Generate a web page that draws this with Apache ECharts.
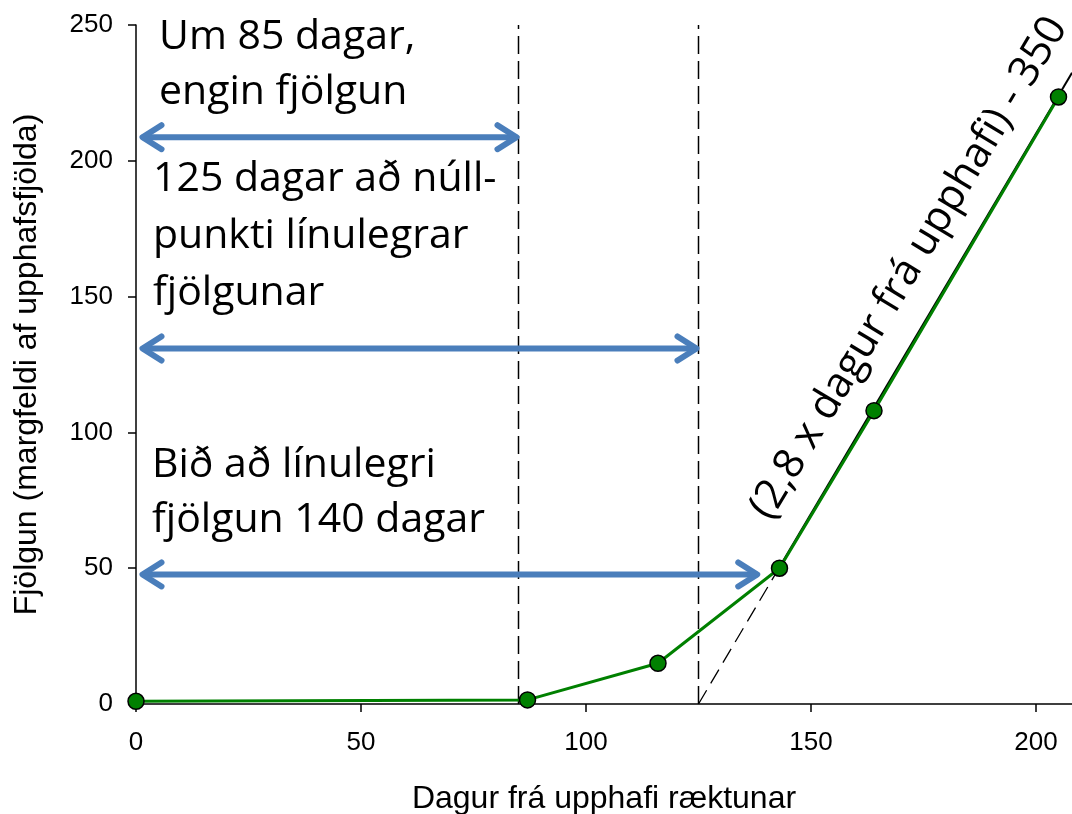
<!DOCTYPE html>
<html>
<head>
<meta charset="utf-8">
<script src="https://cdn.jsdelivr.net/npm/echarts@6/dist/echarts.min.js"></script>
<style>
  html, body { margin: 0; padding: 0; background: #fff; }
  #chart { width: 1072px; height: 814px; }
</style>
</head>
<body>
<div id="chart"></div>
<script>
// measured points (day, multiple of starting population)
var days = [0, 87, 116, 143, 164, 205];
var growth = [1, 1.5, 15, 50, 108, 223.5];

// linear fit: 2.8 x day - 350
var fitDashed = [[125, 0], [143, 50.4]];
var fitSolid = [[143, 50.4], [208, 232.4]];

// vertical dashed markers
var markerDays = [85, 125];

// double arrows: [from day, to day, level]
var arrows = [
    [1, 85, 208.7],
    [1, 125, 130.9],
    [1, 138.5, 47.7]
];

var xTicks = [0, 50, 100, 150, 200];
var yTicks = [0, 50, 100, 150, 200, 250];

var chart = echarts.init(document.getElementById('chart'));

var series = [];

markerDays.forEach(function (d) {
    series.push({
        type: 'line',
        data: [[d, 0], [d, 250]],
        symbol: 'none',
        silent: true,
        lineStyle: {color: '#000', width: 1.5, type: [18, 7]},
        z: 1
    });
});

series.push({
    type: 'line',
    data: fitDashed,
    symbol: 'none',
    silent: true,
    lineStyle: {color: '#000', width: 1.3, type: [16, 8]},
    z: 1
});
series.push({
    type: 'line',
    data: fitSolid,
    symbol: 'none',
    silent: true,
    lineStyle: {color: '#000', width: 2},
    z: 1
});

series.push({
    type: 'custom',
    data: arrows,
    clip: false,
    silent: true,
    encode: {x: [0, 1], y: 2},
    renderItem: function (params, api) {
        var a = api.coord([api.value(0), api.value(2)]);
        var b = api.coord([api.value(1), api.value(2)]);
        var st = {stroke: '#4a7ebb', lineWidth: 6, lineCap: 'round', lineJoin: 'round', fill: null};
        return {
            type: 'group',
            children: [
                {type: 'line', shape: {x1: a[0] + 3, y1: a[1], x2: b[0] - 3, y2: b[1]}, style: st},
                {type: 'polyline', shape: {points: [[a[0] + 21, a[1] - 12], [a[0] + 2, a[1]], [a[0] + 21, a[1] + 12]]}, style: st},
                {type: 'polyline', shape: {points: [[b[0] - 21, b[1] - 12], [b[0] - 2, b[1]], [b[0] - 21, b[1] + 12]]}, style: st}
            ]
        };
    },
    z: 3
});

series.push({
    type: 'line',
    data: days.map(function (d, i) { return [d, growth[i]]; }),
    symbol: 'circle',
    symbolSize: 16,
    lineStyle: {color: '#008000', width: 3},
    itemStyle: {color: '#008000', borderColor: '#000', borderWidth: 1.5},
    clip: false,
    z: 5
});

var big = {fill: '#000', font: '41px "Open Sans", sans-serif'};

chart.setOption({
    animation: false,
    grid: {left: 136, right: 0, top: 25, bottom: 110, outerBoundsMode: 'none'},
    xAxis: {
        type: 'value',
        min: 0,
        max: 208,
        interval: 50,
        name: 'Dagur frá upphafi ræktunar',
        nameLocation: 'middle',
        nameGap: 79,
        nameTextStyle: {fontFamily: 'Liberation Sans', fontSize: 32, color: '#000'},
        splitLine: {show: false},
        axisLine: {onZero: false, lineStyle: {color: '#000', width: 1.5}},
        axisTick: {length: 8, lineStyle: {color: '#000', width: 1.5}, customValues: xTicks},
        axisLabel: {fontFamily: 'Liberation Sans', fontSize: 26, color: '#000', margin: 26, customValues: xTicks}
    },
    yAxis: {
        type: 'value',
        min: 0,
        max: 250,
        interval: 50,
        name: 'Fjölgun (margfeldi af upphafsfjölda)',
        nameLocation: 'middle',
        nameGap: 93,
        nameTextStyle: {fontFamily: 'Liberation Sans', fontSize: 32, color: '#000'},
        splitLine: {show: false},
        axisLine: {lineStyle: {color: '#000', width: 1.5}},
        axisTick: {length: 8, lineStyle: {color: '#000', width: 1.5}, customValues: yTicks},
        axisLabel: {fontFamily: 'Liberation Sans', fontSize: 26, color: '#000', margin: 23, customValues: yTicks}
    },
    graphic: [
        {type: 'text', left: 159, top: 10, style: Object.assign({text: 'Um 85 dagar,\nengin fjölgun', lineHeight: 55}, big)},
        {type: 'text', left: 153, top: 151, style: Object.assign({text: '125 dagar að núll-\npunkti línulegrar\nfjölgunar', lineHeight: 57}, big)},
        {type: 'text', left: 152, top: 438, style: Object.assign({text: 'Bið að línulegri\nfjölgun 140 dagar', lineHeight: 55}, big)},
        {
            type: 'text',
            x: 909,
            y: 268,
            rotation: 59 * Math.PI / 180,
            style: {text: '(2,8 x dagur frá upphafi) - 350', align: 'center', verticalAlign: 'middle', fill: '#000', font: '42px "Open Sans", sans-serif'}
        }
    ],
    series: series
});
</script>
</body>
</html>
